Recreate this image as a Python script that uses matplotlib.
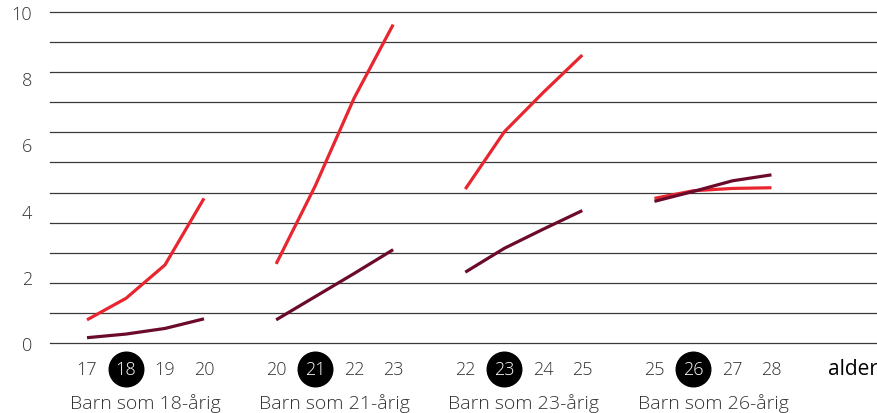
import matplotlib
matplotlib.use("Agg")
import matplotlib.pyplot as plt
import matplotlib.transforms as mtransforms

# Data
groups = ["Barn som 18-årig", "Barn som 21-årig", "Barn som 23-årig", "Barn som 26-årig"]
ages = [[17, 18, 19, 20], [20, 21, 22, 23], [22, 23, 24, 25], [25, 26, 27, 28]]
focus_age = [18, 21, 23, 26]
red_series = [[0.70, 1.35, 2.36, 4.37],
              [2.39, 4.74, 7.40, 9.62],
              [4.65, 6.38, 7.57, 8.70],
              [4.37, 4.60, 4.67, 4.69]]
dark_series = [[0.16, 0.27, 0.44, 0.73],
               [0.70, 1.40, 2.10, 2.82],
               [2.14, 2.86, 3.44, 4.00],
               [4.28, 4.58, 4.90, 5.08]]
y_ticks = [0, 2, 4, 6, 8, 10]
x_axis_label = "alder"

RED = "#e8262f"
DARK = "#6b0a2a"
GROUP_STEP = 4.85

plt.rcParams['font.family'] = ['Open Sans', 'DejaVu Sans']

fig = plt.figure(figsize=(8.78, 4.14), dpi=100)
ax = fig.add_axes([50/878, (414-344)/414, 1 - 50/878, 331/414])

ax.set_xlim(-37/39, (878-87)/39)
ax.set_ylim(0, 10)

# grid lines (11 intervals)
for k in range(12):
    ax.axhline(k * 10 / 11, color="#3a3a3a", lw=0.9, zorder=1, clip_on=False)

trans = mtransforms.blended_transform_factory(ax.transData, ax.transAxes)

FS = 13
FS_GROUP = 14
for g in range(len(groups)):
    xs = [g * GROUP_STEP + i for i in range(len(ages[g]))]
    ax.plot(xs, red_series[g], color=RED, lw=2.3, zorder=3, solid_capstyle='butt')
    ax.plot(xs, dark_series[g], color=DARK, lw=2.3, zorder=3, solid_capstyle='butt')
    for x, a in zip(xs, ages[g]):
        if a == focus_age[g]:
            ax.scatter([x], [-0.0785], s=620, color="black", transform=trans,
                       clip_on=False, zorder=4)
            ax.text(x, -0.0785, str(a), transform=trans, ha="center", va="center",
                    fontsize=FS, color="white", zorder=5, fontweight="light")
        else:
            ax.text(x, -0.0785, str(a), transform=trans, ha="center", va="center",
                    fontsize=FS, color="#333333", fontweight="light")
    ax.text((xs[0] + xs[-1]) / 2, -0.18, groups[g], transform=trans,
            ha="center", va="center", fontsize=FS_GROUP, color="#333333", fontweight="light")

ax.text(1.0, -0.0785, x_axis_label, transform=ax.transAxes, ha="right", va="center",
        fontsize=15, color="black")

ax.set_yticks(y_ticks)
ax.set_yticklabels([str(v) for v in y_ticks], fontsize=FS, color="#333333",
                   fontweight="light")
ax.tick_params(axis="y", length=0, pad=13)
ax.set_xticks([])
for s in ax.spines.values():
    s.set_visible(False)

fig.savefig("out.png", dpi=100)
